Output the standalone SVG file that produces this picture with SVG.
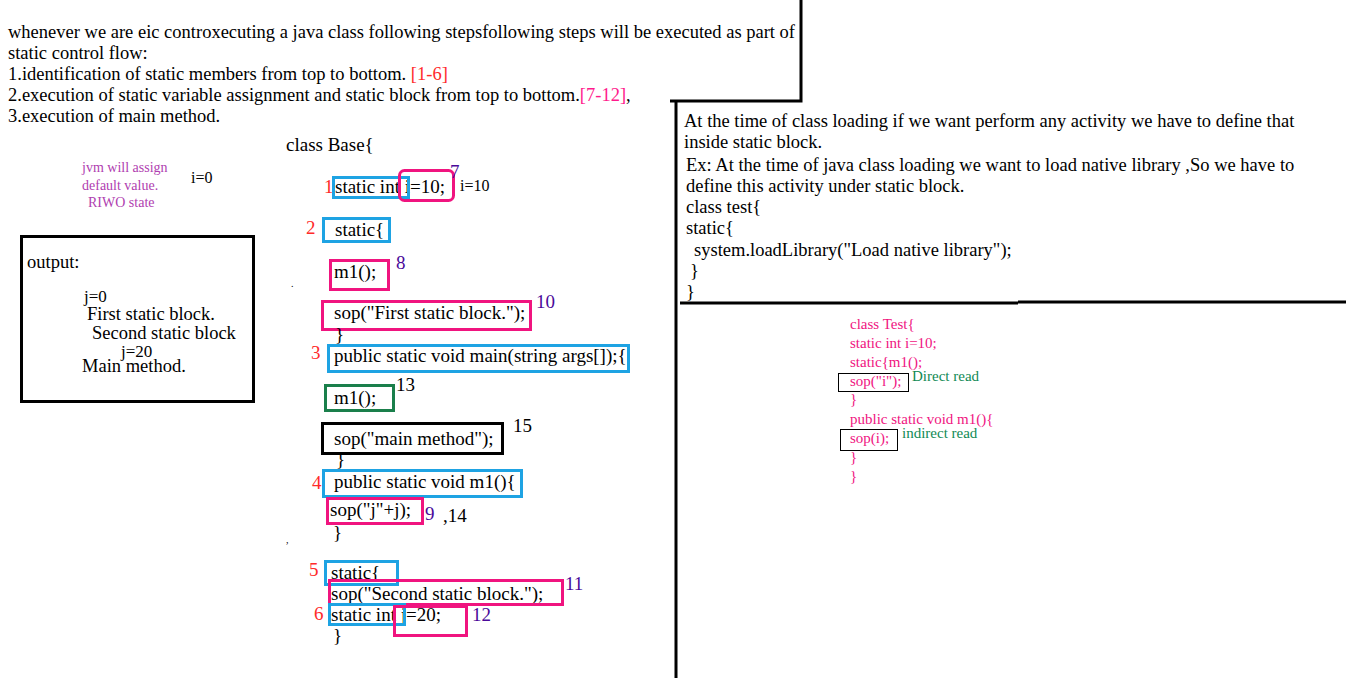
<svg xmlns="http://www.w3.org/2000/svg" width="1346" height="678" viewBox="0 0 1346 678">
<style>
text{font-family:"Liberation Serif","Times New Roman",serif;fill:#000}
.t{font-size:18.5px}
.c{font-size:19px}
.red{fill:#ff2a2a}
.pur{fill:#4a0a9a}
.pk{fill:#ff1a8c}
.jvm{font-size:14px;fill:#b040b0}
.sm{font-size:15px;fill:#f0147f}
.gr{font-size:15px;fill:#118a55}
.bx{fill:none;stroke-width:3}
.blue{stroke:#1ea3e3}
.pink{stroke:#f0147f}
.green{stroke:#1a7f4b}
.blk{stroke:#000}
.ln{stroke:#000;stroke-width:3;fill:none}
</style>
<rect width="1346" height="678" fill="#fff"/>
<g id="dividers">
<path class="ln" d="M801 0V101H670"/>
<path class="ln" d="M676 101V678"/>
<path class="ln" d="M680 303H1018"/>
<path class="ln" d="M1018 302H1346"/>
</g>
<g id="intro">
<text class="t" x="8" y="38">whenever we are eic controxecuting a java class following stepsfollowing steps will be executed as part of</text>
<text class="t" x="8" y="59">static control flow:</text>
<text class="t" x="8" y="80">1.identification of static members from top to bottom. <tspan class="red">[1-6]</tspan></text>
<text class="t" x="8" y="101">2.execution of static variable assignment and static block from top to bottom.<tspan class="pk">[7-12]</tspan>,</text>
<text class="t" x="8" y="122">3.execution of main method.</text>
</g>
<g id="jvm-note">
<text class="jvm" x="82" y="172">jvm will assign</text>
<text class="jvm" x="82" y="190">default value.</text>
<text class="jvm" x="88" y="207">RIWO state</text>
<text x="191" y="183" style="font-size:16px">i=0</text>
</g>
<g id="output-box">
<rect class="bx blk" x="21.5" y="236.5" width="232" height="165"/>
<text class="t" x="27" y="268">output:</text>
<text style="font-size:17px" x="84" y="302">j=0</text>
<text class="t" x="87" y="320">First static block.</text>
<text class="t" x="92" y="339">Second static block</text>
<text style="font-size:17px" x="121" y="357">j=20</text>
<text class="t" x="82" y="372">Main method.</text>
</g>
<g id="code-base">
<text class="c" x="286" y="151">class Base{</text>
<text class="c red" x="324" y="193">1</text>
<text class="c" x="335" y="193">static int i=10;</text>
<rect class="bx blue" x="333.5" y="177.5" width="75" height="20"/>
<rect class="bx pink" x="399.5" y="170.5" width="54" height="30" rx="5"/>
<text class="c pur" x="450" y="178">7</text>
<text x="460" y="191" style="font-size:16px">i=10</text>

<text class="c red" x="306" y="234">2</text>
<text class="c" x="335" y="236">static{</text>
<rect class="bx blue" x="323.5" y="218.5" width="66" height="23"/>

<text class="c" x="334" y="278">m1();</text>
<rect class="bx pink" x="330.5" y="260.5" width="58" height="29"/>
<text class="c pur" x="396" y="269">8</text>
<text x="291" y="287" style="font-size:10px">.</text>

<text class="c" x="334" y="319">sop("First static block.");</text>
<rect class="bx pink" x="322.5" y="301.5" width="208" height="28"/>
<text class="c pur" x="536" y="308">10</text>
<text class="c" x="335" y="341">}</text>

<text class="c red" x="311" y="359">3</text>
<text class="c" x="334" y="362">public static void main(string args[]);{</text>
<rect class="bx blue" x="328.5" y="345.5" width="300" height="26"/>

<text class="c" x="334" y="404">m1();</text>
<rect class="bx green" x="325.5" y="385.5" width="68" height="25"/>
<text class="c" x="396" y="391">13</text>

<text class="c" x="334" y="445">sop("main method");</text>
<rect class="bx blk" x="322.5" y="423.5" width="180" height="30"/>
<text class="c" x="513" y="432">15</text>
<text class="c" x="336" y="466">}</text>

<text class="c red" x="312" y="489">4</text>
<text class="c" x="334" y="488">public static void m1(){</text>
<rect class="bx blue" x="323.5" y="470.5" width="198" height="26"/>

<text class="c" x="330" y="516">sop("j"+j);</text>
<rect class="bx pink" x="327.5" y="498.5" width="95" height="25"/>
<text class="c pur" x="425" y="520">9</text>
<text class="c" x="443" y="522">,14</text>
<text class="c" x="333" y="539">}</text>
<text x="286" y="543" style="font-size:10px">,</text>

<text class="c red" x="309" y="576">5</text>
<text class="c" x="331" y="579">static{</text>
<rect class="bx blue" x="325.5" y="561.5" width="72" height="23"/>

<text class="c" x="331" y="600">sop("Second static block.");</text>
<rect class="bx pink" x="329.5" y="580.5" width="233" height="24"/>
<text class="c pur" x="565" y="590">11</text>

<text class="c red" x="314" y="620">6</text>
<text class="c" x="331" y="621">static int j=20;</text>
<rect class="bx blue" x="329.5" y="604.5" width="75" height="20"/>
<rect class="bx pink" x="394.5" y="606.5" width="72" height="29"/>
<text class="c pur" x="472" y="621">12</text>
<text class="c" x="333" y="642">}</text>
</g>
<g id="static-block-note">
<text class="t" x="684" y="127">At the time of class loading if we want perform any activity we have to define that</text>
<text class="t" x="684" y="148">inside static block.</text>
<text class="t" x="686" y="171">Ex: At the time of java class loading we want to load native library ,So we have to</text>
<text class="t" x="686" y="192">define this activity under static block.</text>
<text class="t" x="686" y="213">class test{</text>
<text class="t" x="686" y="234">static{</text>
<text class="t" x="694" y="256">system.loadLibrary("Load native library");</text>
<text class="t" x="690" y="277">}</text>
<text class="t" x="686" y="298">}</text>
</g>
<g id="read-example">
<text class="sm" x="850" y="329">class Test{</text>
<text class="sm" x="850" y="348">static int i=10;</text>
<text class="sm" x="850" y="367">static{m1();</text>
<text class="sm" x="850" y="386">sop("i");</text>
<rect x="838.5" y="373.5" width="70" height="18" fill="none" stroke="#000" stroke-width="1"/>
<text class="gr" x="912" y="381">Direct read</text>
<text class="sm" x="850" y="404">}</text>
<text class="sm" x="850" y="424">public static void m1(){</text>
<text class="sm" x="850" y="443">sop(i);</text>
<rect x="840.5" y="429.5" width="57" height="21" fill="none" stroke="#000" stroke-width="1"/>
<text class="gr" x="902" y="438">indirect read</text>
<text class="sm" x="850" y="462">}</text>
<text class="sm" x="850" y="481">}</text>
</g>
</svg>
